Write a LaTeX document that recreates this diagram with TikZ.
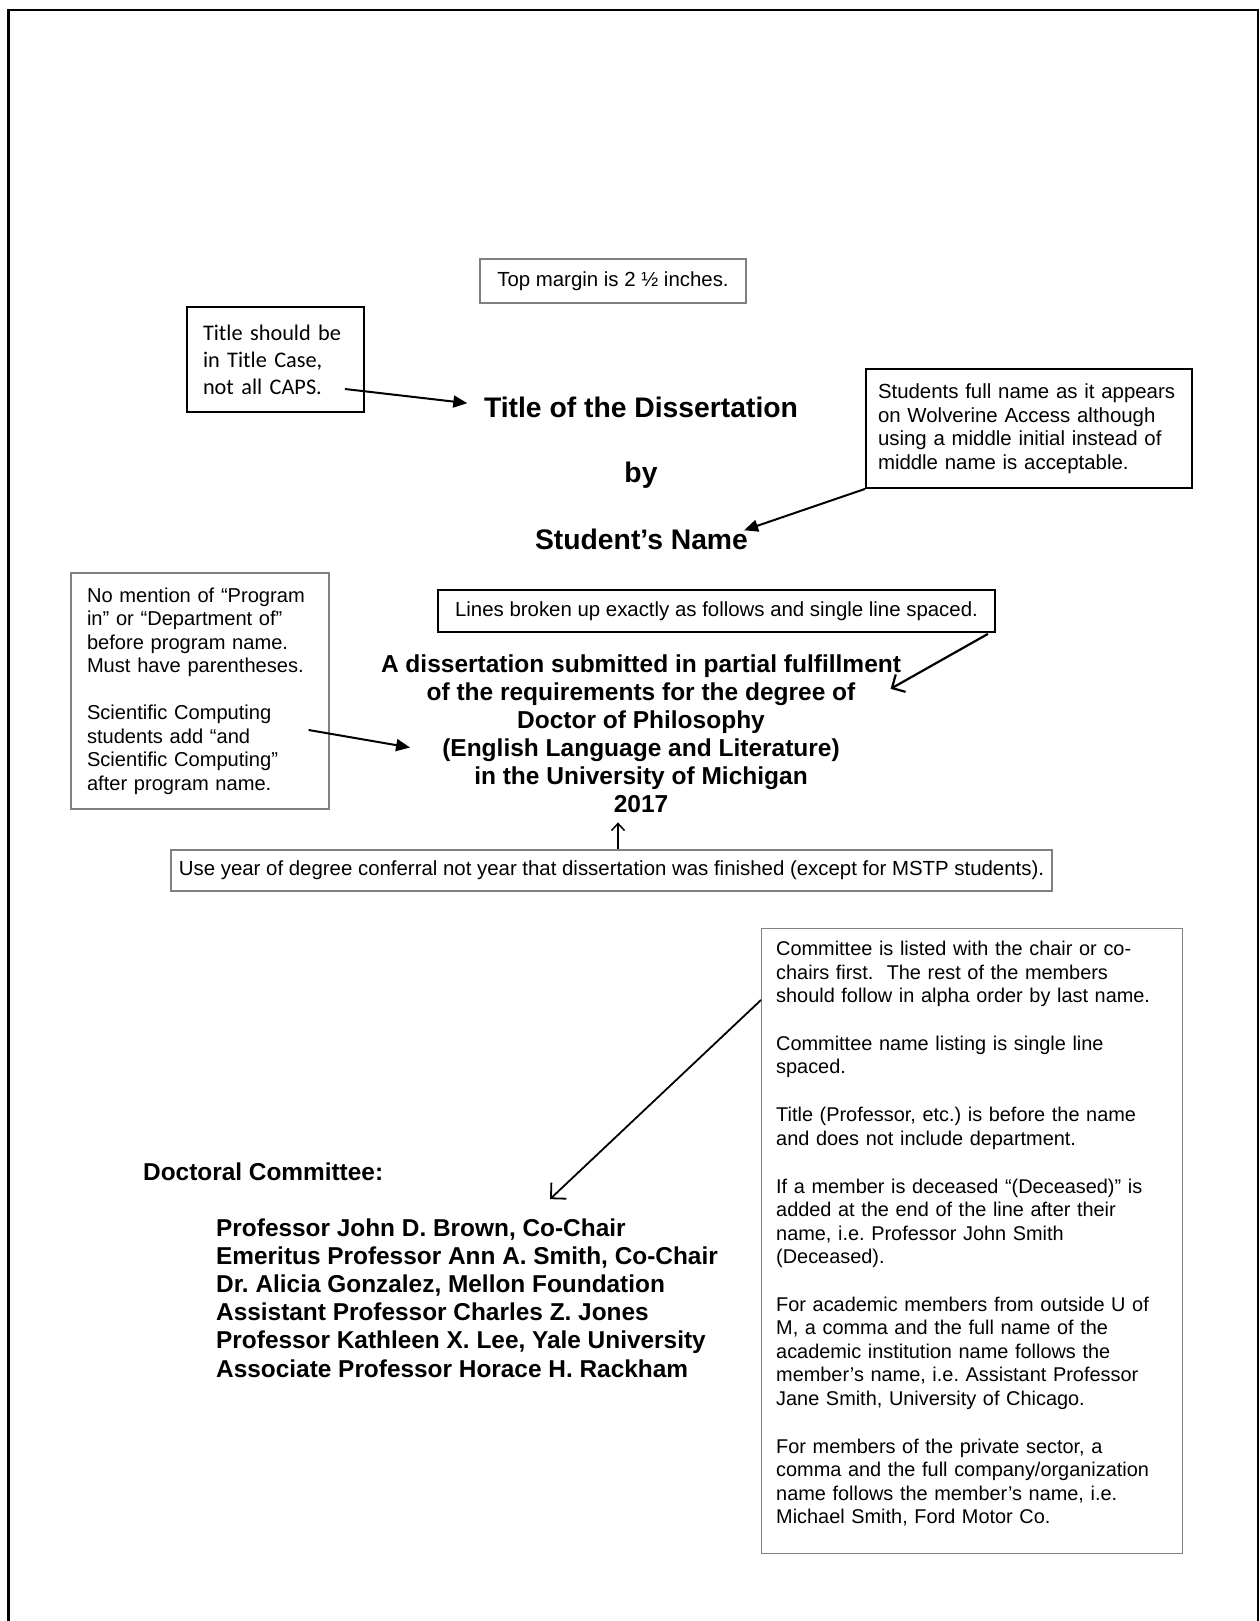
\documentclass[tikz,border=0pt]{standalone}
\usepackage{fontspec}
\setmainfont{Liberation Sans}
\newfontfamily\calfont{Carlito}
\usetikzlibrary{calc,arrows.meta}
\frenchspacing

\begin{document}
\begin{tikzpicture}[x=1pt,y=-1pt,
    note/.style={font=\fontsize{20.4}{23.5}\selectfont, inner sep=0pt},
    graybox/.style={draw=gray, line width=1.2pt},
    blackbox/.style={draw=black, line width=1.8pt},
    big/.style={font=\fontsize{28.3}{34}\selectfont\bfseries, inner sep=0pt},
    degree/.style={font=\fontsize{24.5}{28.1}\selectfont\bfseries, inner sep=0pt},
    member/.style={font=\fontsize{24.4}{28.2}\selectfont\bfseries, inner sep=0pt},
    fatarrow/.style={line width=2pt, -{Triangle[length=14pt,width=12pt]}},
    openarrow/.style={line width=2.2pt, -{Straight Barb[length=10pt,width=20pt]}}]
  \fill[white] (0,0) rectangle (1259,1621);
  \useasboundingbox (0,0) rectangle (1259,1621);
  % page edge
  \draw[line width=2.2pt] (8.5,1621) -- (8.5,10) -- (1259,10);
  \draw[line width=1.2pt] (1258,10) -- (1258,1621);

  % title part
  \node[graybox, note, minimum width=266pt, minimum height=44pt] (mbox) at (613,281) {Top margin is 2 ½ inches.};
  \node[blackbox, note, font=\calfont\fontsize{22.3}{27}\selectfont, text width=145pt, inner xsep=16pt, minimum height=105pt, align=left] (tbox) at (275.5,359.5) {Title should be\\in Title Case,\\not all CAPS.};
  \node[big, anchor=base] (title) at (641,417) {Title of the Dissertation};
  \node[big, anchor=base] (by) at (641,482) {by};
  \node[big, anchor=base] (sname) at (641.5,549) {Student’s Name};
  \node[blackbox, note, text width=302pt, inner xsep=12pt, minimum height=119pt, align=left] (sbox) at (1029,428.5) {Students full name as it appears\\on Wolverine Access although\\using a middle initial instead of\\middle name is acceptable.};
  \draw[fatarrow] ($(tbox.east)+(-20,29.5)$) -- ($(title.west)+(-16.5,-3.7)$);
  \draw[fatarrow] (sbox.south west) -- ($(sname.north east)+(-4,2)$);

  % degree statement
  \node[blackbox, note, minimum width=557pt, minimum height=42pt] (lbox) at (716.5,611) {Lines broken up exactly as follows and single line spaced.};
  \node[graybox, note, font=\fontsize{20.1}{23.5}\selectfont, text width=226pt, inner xsep=16pt, minimum height=236pt, align=left] (pbox) at (200,691) {No mention of “Program\\in” or “Department of”\\before program name.\\Must have parentheses.\\[23.5pt]Scientific Computing\\students add “and\\Scientific Computing”\\after program name.};
  \foreach \line [count=\i] in {A dissertation submitted in partial fulfillment, of the requirements for the degree of, Doctor of Philosophy, (English Language and Literature), in the University of Michigan, 2017}
    \node[degree, anchor=base] (dl\i) at (641,{672+28.1*(\i-1)}) {\line};
  \node[graybox, note, minimum width=881pt, minimum height=41pt] (ybox) at (611.5,870.5) {Use year of degree conferral not year that dissertation was finished (except for MSTP students).};
  \draw[openarrow] ($(lbox.south east)+(-8,1)$) -- ($(dl2.east)+(35,-5)$);
  \draw[fatarrow] ($(pbox.east)+(-21,39)$) -- ($(dl4.west)+(-32,-2.5)$);
  \draw[line width=1.5pt, -{Straight Barb[length=7pt,width=13pt]}] ($(ybox.north)+(6.5,0)$) -- ++(0,-27);

  % committee
  \node[graybox, minimum width=421pt, minimum height=625pt, anchor=north west] (cbox) at (761,928) {};
  \node[note, font=\fontsize{19.9}{23.5}\selectfont, text width=391pt, align=left, anchor=north west] (ctext) at ($(cbox.north west)+(15,13)$) {Committee is listed with the chair or co-\\chairs first.~ The rest of the members\\should follow in alpha order by last name.\\[24.3pt]Committee name listing is single line\\spaced.\\[24.3pt]Title (Professor, etc.) is before the name\\and does not include department.\\[24.3pt]If a member is deceased “(Deceased)” is\\added at the end of the line after their\\name, i.e. Professor John Smith\\(Deceased).\\[24.3pt]For academic members from outside U of\\M, a comma and the full name of the\\academic institution name follows the\\member’s name, i.e. Assistant Professor\\Jane Smith, University of Chicago.\\[24.3pt]For members of the private sector, a\\comma and the full company/organization\\name follows the member’s name, i.e.\\Michael Smith, Ford Motor Co.};
  \node[member, anchor=base west] (dc) at (143,1180) {Doctoral Committee:};
  \foreach \name [count=\i] in {{Professor John D. Brown, Co-Chair}, {Emeritus Professor Ann A. Smith, Co-Chair}, {Dr. Alicia Gonzalez, Mellon Foundation}, {Assistant Professor Charles Z. Jones}, {Professor Kathleen X. Lee, Yale University}, {Associate Professor Horace H. Rackham}}
    \node[member, anchor=base west] (m\i) at (216,{1236+28.2*(\i-1)}) {\name};
  \draw[line width=1.8pt, -{Straight Barb[length=11pt,width=22pt]}] ($(cbox.north west)+(0,72)$) -- ($(m1.north west)+(334,-19)$);
\end{tikzpicture}
\end{document}
